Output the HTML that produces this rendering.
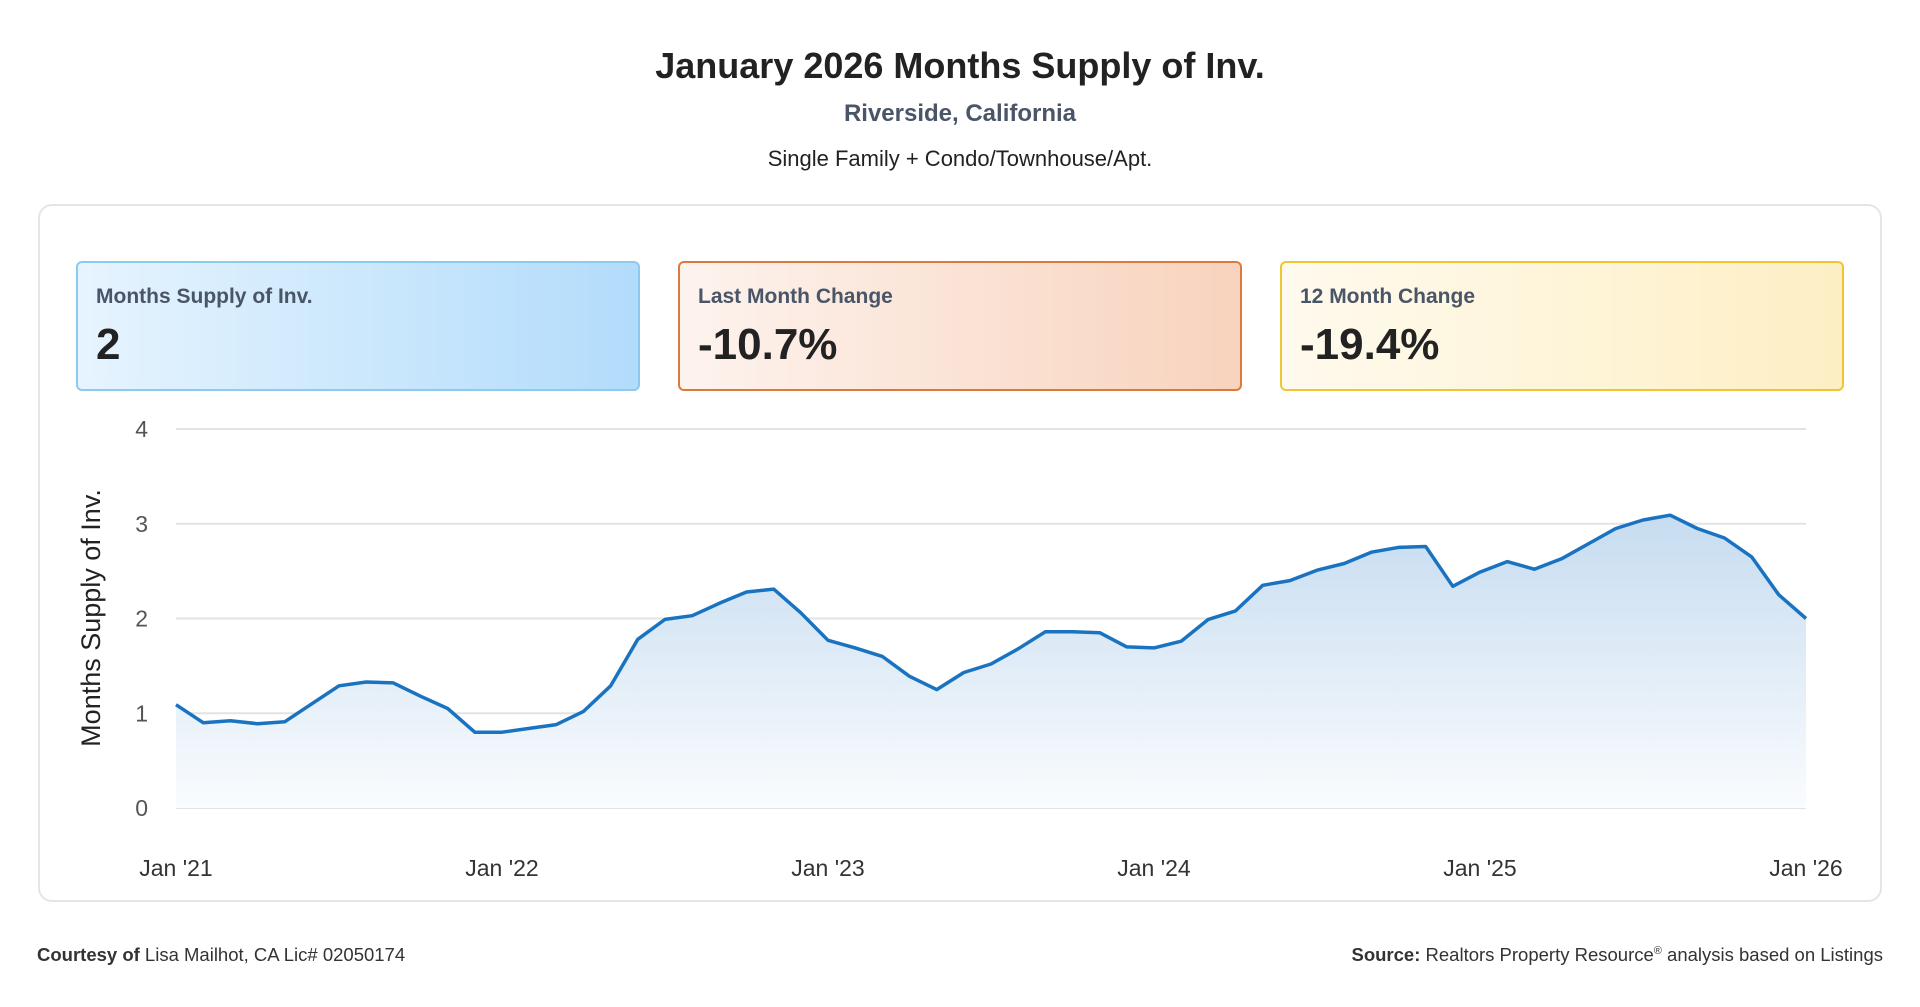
<!DOCTYPE html>
<html><head><meta charset="utf-8"><style>
body{margin:0;width:1920px;height:1007px;background:#fff;font-family:"Liberation Sans",sans-serif;position:relative;overflow:hidden}
.t{position:absolute;left:0;width:1920px;text-align:center}
.card{position:absolute;left:38px;top:204px;width:1844px;height:698px;border:2px solid #e2e6ea;border-radius:14px;box-sizing:border-box}
.kpi{position:absolute;top:261px;width:564px;height:130px;border-radius:6px;box-sizing:border-box;border:2px solid}
.kpi .l{position:absolute;left:18px;top:22px;font-size:21px;font-weight:bold;color:#4a5568}
.kpi .v{position:absolute;left:18px;top:57px;font-size:44px;font-weight:bold;color:#222}
.f{position:absolute;top:944px;font-size:18.5px;color:#333}
</style></head><body>
<div class="t" style="top:45px;font-size:36px;font-weight:bold;color:#222">January 2026 Months Supply of Inv.</div>
<div class="t" style="top:100px;font-size:24px;font-weight:bold;color:#4a5568">Riverside, California</div>
<div class="t" style="top:146px;font-size:22px;color:#222">Single Family + Condo/Townhouse/Apt.</div>
<div class="card"></div>
<div class="kpi" style="left:76px;border-color:#8ccaf0;background:linear-gradient(90deg,#e6f4fe,#b2dcfb)"><div class="l">Months Supply of Inv.</div><div class="v">2</div></div>
<div class="kpi" style="left:678px;border-color:#dd7a3a;background:linear-gradient(90deg,#fdf3ee,#f8d3bd)"><div class="l">Last Month Change</div><div class="v">-10.7%</div></div>
<div class="kpi" style="left:1280px;border-color:#f0c534;background:linear-gradient(90deg,#fffaee,#fdefc4)"><div class="l">12 Month Change</div><div class="v">-19.4%</div></div>
<svg id="ch" width="1920" height="1007" style="position:absolute;left:0;top:0">
<defs><linearGradient id="g" x1="0" y1="0" x2="0" y2="1"><stop offset="0" stop-color="#c6dcf0"/><stop offset="1" stop-color="#fafcfe"/></linearGradient></defs>
</svg>
<div class="f" style="left:37px"><b>Courtesy of</b> Lisa Mailhot, CA Lic# 02050174</div>
<div class="f" style="right:37px"><b>Source:</b> Realtors Property Resource<sup style="font-size:11px">®</sup> analysis based on Listings</div>
<script>
const values=[1.09,0.9,0.92,0.89,0.91,1.1,1.29,1.33,1.32,1.18,1.05,0.8,0.8,0.84,0.88,1.02,1.29,1.78,1.99,2.03,2.16,2.28,2.31,2.06,1.77,1.69,1.6,1.39,1.25,1.43,1.52,1.68,1.86,1.86,1.85,1.7,1.69,1.76,1.99,2.08,2.35,2.4,2.51,2.58,2.7,2.75,2.76,2.34,2.49,2.6,2.52,2.63,2.79,2.95,3.04,3.09,2.95,2.85,2.65,2.25,2.0];
const yTicks=[0,1,2,3,4];
const xLabels=["Jan '21","Jan '22","Jan '23","Jan '24","Jan '25","Jan '26"];
const svg=document.getElementById('ch');const NS='http://www.w3.org/2000/svg';
const X0=176,X1=1806,Y0=808,Y1=429;
const x=i=>X0+(X1-X0)*i/(values.length-1);
const y=v=>Y0-(Y0-Y1)*v/4;
function mk(t,a){const e=document.createElementNS(NS,t);for(const k in a)e.setAttribute(k,a[k]);svg.appendChild(e);return e;}
yTicks.forEach(t=>{
 const l=mk('line',{x1:X0,x2:X1,y1:y(t),y2:y(t),stroke:'#e3e3e3','stroke-width':2});
 
 
 const tx=mk('text',{x:148,y:y(t)+8,'text-anchor':'end','font-size':23,fill:'#555','font-family':'Liberation Sans'});tx.textContent=t;
 
 
});
xLabels.forEach((s,i)=>{
 const tx=mk('text',{x:X0+(X1-X0)*i/(xLabels.length-1),y:876,'text-anchor':'middle','font-size':23,fill:'#333','font-family':'Liberation Sans'});tx.textContent=s;
 
 
});
const yt=mk('text',{x:0,y:0,transform:'translate(100,618) rotate(-90)','text-anchor':'middle','font-size':27,fill:'#222','font-family':'Liberation Sans'});yt.textContent='Months Supply of Inv.';


let d=values.map((v,i)=>(i?'L':'M')+x(i).toFixed(1)+','+y(v).toFixed(1)).join('');
const ar=mk('path',{d:d+'L'+X1+','+Y0+'L'+X0+','+Y0+'Z',fill:'url(#g)'});


const ln=mk('path',{d:d,fill:'none',stroke:'#1a73c0','stroke-width':3.5,'stroke-linejoin':'round'});


</script>
</body></html>
